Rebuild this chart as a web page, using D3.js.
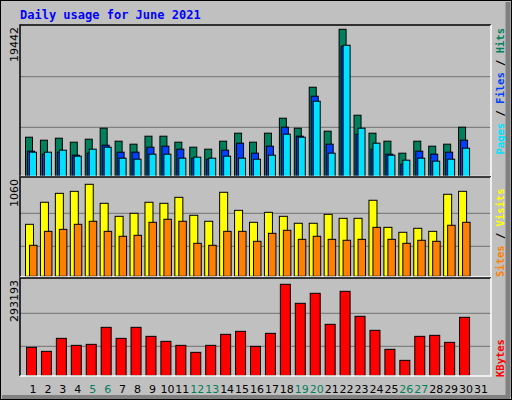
<!DOCTYPE html>
<html><head><meta charset="utf-8">
<script src="https://cdn.jsdelivr.net/npm/d3@7"></script>
<style>body{margin:0;background:#fff}</style></head>
<body><svg id="c" width="512" height="400"></svg>
<script>
const days = d3.range(1, 32);
const weekend = [5, 6, 12, 13, 19, 20, 26, 27];
const hits  = [5190,4796,5060,4532,4928,6380,4664,4268,5324,5324,4532,3872,3608,4664,5720,4532,5720,7700,6380,11792,5984,19442,8096,5720,4664,3080,4664,4004,4268,6512,0];
const files = [3344,2948,3212,2816,3080,4136,3212,3212,3872,4004,3608,2420,2288,3476,4400,3080,4004,6512,5324,10604,4268,17204,5588,3608,2948,1628,3344,2948,3212,4796,0];
const pages = [3212,3212,3476,2684,3608,3872,2420,2288,2948,2948,2420,2552,2420,2684,2420,2288,2816,5588,5192,9944,3080,17336,6380,4400,2816,2156,2420,2024,2288,3740,0];
const visits = [599,853,956,979,1060,841,691,726,853,841,910,703,634,968,760,622,737,691,611,611,714,668,668,876,564,507,553,518,945,979,0];
const sites  = [357,518,541,599,634,518,461,472,622,657,634,380,357,518,518,403,495,530,426,461,426,415,426,564,426,380,415,403,588,622,0];
const kbytes = [90950,78110,119840,97370,100580,155150,119840,155150,126260,110210,97370,74900,97370,132680,142310,94160,135890,293193,232190,264290,164780,270710,190460,145520,84530,49220,126260,129470,107000,187250,0];
const maxLabels = ["19442", "1060", "293193"];

const svg = d3.select("#c");
svg.append("rect").attr("width",512).attr("height",400).attr("fill","#C0C0C0");
svg.append("rect").attr("x",0.5).attr("y",0.5).attr("width",511).attr("height",399).attr("fill","none").attr("stroke","#000");
svg.append("line").attr("x1",508).attr("x2",508).attr("y1",2).attr("y2",397).attr("stroke","#808080").attr("stroke-width",5);
svg.append("line").attr("x1",2).attr("x2",510).attr("y1",397).attr("y2",397).attr("stroke","#808080").attr("stroke-width",4);

svg.append("text").attr("x",20).attr("y",19).attr("fill","#0000FF")
  .style("font","bold 12px 'DejaVu Sans Mono', monospace").text("Daily usage for June 2021");

const x = d3.scaleLinear().domain([1,31]).range([33,481]);
const L = 20, R = 491;
const panels = [
  {top:25, bot:176.5, barBase:176.5, yTop:29.3, max:19442, grid:[76.7,127.3]},
  {top:177, bot:277, barBase:276.3, yTop:184.3, max:1060, grid:[213.3,246.3]},
  {top:278, bot:376, barBase:375.7, yTop:284.3, max:293193, grid:[313.3,346.3]}
];
panels.forEach(p => {
  svg.append("rect").attr("x",L).attr("y",p.top).attr("width",R-L).attr("height",p.bot-p.top).attr("fill","#C0C0C0");
  p.grid.forEach(g => svg.append("line").attr("x1",L).attr("x2",R).attr("y1",g).attr("y2",g).attr("stroke","#808080").attr("stroke-width",1.3));
  p.y = d3.scaleLinear().domain([0,p.max]).range([p.barBase,p.yTop]);
});

function bars(p, data, off, w, color) {
  svg.append("g").selectAll("rect").data(data.map((v,i)=>({v,d:days[i]})).filter(o=>o.v>0)).join("rect")
    .attr("x", o => x(o.d) + off + 0.5).attr("width", w)
    .attr("y", o => p.y(o.v)).attr("height", o => p.barBase - p.y(o.v))
    .attr("fill", color).attr("stroke","#000").attr("stroke-width",1);
}
bars(panels[0], hits, -8, 7, "#00805C");
bars(panels[0], files, -6, 7, "#0040FF");
bars(panels[0], pages, -4, 7, "#00E0FF");
bars(panels[1], visits, -8, 8, "#FFFF00");
bars(panels[1], sites, -4, 7.5, "#FF8000");
bars(panels[2], kbytes, -7, 10, "#FF0000");

// panel borders
panels.forEach(p => {
  svg.append("path").attr("d",`M${L},${p.bot}V${p.top}H${R}`).attr("fill","none").attr("stroke","#000").attr("stroke-width",1.5);
  svg.append("path").attr("d",`M${R},${p.top}V${p.bot}H${L}`).attr("fill","none").attr("stroke","#fff").attr("stroke-width",1.5);
});

// max labels
const yl = [27, 179, 280];
maxLabels.forEach((t,i) => svg.append("text")
  .attr("transform",`translate(18,${yl[i]}) rotate(-90)`).attr("text-anchor","end")
  .style("font","11px 'DejaVu Sans', sans-serif").attr("fill","#000").text(t));

// day labels
svg.append("g").selectAll("text").data(days).join("text")
  .attr("x", d => x(d)).attr("y", 393).attr("text-anchor","middle")
  .attr("fill", d => weekend.includes(d) ? "#00805C" : "#000")
  .style("font","11px 'DejaVu Sans', sans-serif").text(d => d);

// right legends
function legend(parts, y, anchor) {
  const t = svg.append("text").attr("transform",`translate(504,${y}) rotate(-90)`).attr("text-anchor",anchor)
    .style("font","bold 10.5px 'DejaVu Sans Mono', monospace");
  parts.forEach(([s,c]) => t.append("tspan").attr("fill",c).text(s));
}
legend([["Pages","#00E0FF"],[" / ","#000"],["Files","#0040FF"],[" / ","#000"],["Hits","#00805C"]], 28, "end");
legend([["Sites","#FF8000"],[" / ","#000"],["Visits","#FFFF00"]], 277, "start");
legend([["KBytes","#FF0000"]], 377, "start");
</script></body></html>
